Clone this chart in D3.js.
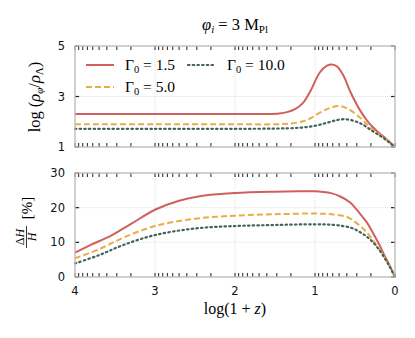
<!DOCTYPE html>
<html>
<head>
<meta charset="utf-8">
<script src="https://cdn.jsdelivr.net/npm/d3@7"></script>
<style>
  body { margin: 0; background: #fff; }
  svg { display: block; }
</style>
</head>
<body>
<svg id="chart" width="415" height="338"></svg>
<script>
// log(1+z) sample points and values
var rhoRed = [[4,2.31],[3,2.31],[2,2.31],[1.6,2.31],[1.45,2.33],[1.35,2.38],[1.25,2.5],[1.15,2.75],[1.06,3.2],[0.94,3.95],[0.85,4.22],[0.79,4.27],[0.72,4.18],[0.64,3.8],[0.56,3.2],[0.44,2.47],[0.35,2.05],[0.275,1.78],[0.2,1.55],[0.125,1.37],[0.06,1.18],[0,1.0]];
var rhoOrange = [[4,1.9],[3,1.9],[2,1.9],[1.5,1.9],[1.3,1.93],[1.15,2.02],[1.06,2.13],[0.94,2.36],[0.82,2.54],[0.69,2.62],[0.58,2.5],[0.44,2.17],[0.35,1.9],[0.275,1.68],[0.2,1.5],[0.125,1.33],[0.06,1.17],[0,1.0]];
var rhoGreen = [[4,1.72],[3,1.72],[2,1.72],[1.5,1.73],[1.2,1.76],[1.0,1.84],[0.85,1.96],[0.72,2.07],[0.62,2.1],[0.5,2.02],[0.4,1.88],[0.3,1.67],[0.2,1.47],[0.12,1.3],[0.05,1.12],[0,1.0]];

var dhRed = [[4,7.0],[3.81,9.2],[3.56,11.8],[3.3,15.3],[3,19.4],[2.7,22.0],[2.44,23.3],[2,24.2],[1.5,24.6],[1.2,24.7],[1,24.7],[0.9,24.55],[0.8,24.2],[0.69,23.3],[0.56,21.5],[0.44,18.3],[0.35,15.7],[0.275,12.7],[0.2,9.5],[0.125,5.9],[0.06,3.0],[0,0]];
var dhOrange = [[4,5.4],[3.7,8.0],[3.4,11.3],[3,14.7],[2.5,16.8],[2,17.7],[1.5,18.1],[1,18.3],[0.8,18.1],[0.6,17.3],[0.44,14.8],[0.35,12.8],[0.275,10.6],[0.2,8.2],[0.125,5.5],[0.06,2.8],[0,0]];
var dhGreen = [[4,3.9],[3.7,6.3],[3.4,9.2],[3,12.1],[2.5,14.0],[2,14.7],[1.5,15.0],[1,15.2],[0.75,15.0],[0.55,14.2],[0.44,13.0],[0.35,11.6],[0.275,10.0],[0.2,7.9],[0.125,5.3],[0.06,2.7],[0,0]];

var gammaLabels = ["1.5", "5.0", "10.0"];
var xTicks = [4, 3, 2, 1, 0];
var yTopTicks = [1, 3, 5];
var yBotTicks = [0, 10, 20, 30];

var colors = ["#d0605e", "#e8ad48", "#40645a"];
var dashes = [null, "6,3", "1.5,3.2"];

var svg = d3.select("#chart");

var x = d3.scaleLinear().domain([4, 0]).range([75, 395]);
var yTop = d3.scaleLinear().domain([1, 5]).range([147, 46]);
var yBot = d3.scaleLinear().domain([0, 30]).range([277, 173]);

// minor ticks, log10 spacing in each decade
var minor = [];
[0, 1, 2, 3].forEach(function(n) {
  for (var k = 2; k < 10; k++) minor.push(n + Math.log10(k));
});

function panel(y, yTicks, grid, series) {
  var g = svg.append("g");
  var y0 = y.range()[0], y1 = y.range()[1];

  // grid
  g.selectAll(".gx").data([3, 2, 1]).enter().append("line")
    .attr("x1", d => x(d)).attr("x2", d => x(d))
    .attr("y1", y0).attr("y2", y1)
    .attr("stroke", "#d8d8d8").attr("stroke-width", 0.8).attr("stroke-dasharray", "1,1");
  g.selectAll(".gy").data(grid).enter().append("line")
    .attr("x1", 75).attr("x2", 395)
    .attr("y1", d => y(d)).attr("y2", d => y(d))
    .attr("stroke", "#d8d8d8").attr("stroke-width", 0.8).attr("stroke-dasharray", "1,1");

  // curves
  var line = d3.line().x(d => x(d[0])).y(d => y(d[1])).curve(d3.curveCatmullRom.alpha(0.5));
  series.forEach(function(s, i) {
    g.append("path").datum(s)
      .attr("d", line)
      .attr("fill", "none")
      .attr("stroke", colors[i])
      .attr("stroke-width", i == 2 ? 2.2 : 2)
      .attr("stroke-linecap", i == 2 ? "round" : "butt")
      .attr("stroke-dasharray", dashes[i]);
  });

  // inward ticks top/bottom
  var allX = xTicks.concat(minor);
  [y0, y1].forEach(function(yy) {
    var dir = yy == y0 ? -1 : 1;
    g.selectAll(null).data(allX).enter().append("line")
      .attr("x1", d => x(d)).attr("x2", d => x(d))
      .attr("y1", yy).attr("y2", yy + dir * 4)
      .attr("stroke", "#222").attr("stroke-width", 1);
  });
  // inward y ticks left/right
  [75, 395].forEach(function(xx) {
    var dir = xx == 75 ? 1 : -1;
    g.selectAll(null).data(yTicks).enter().append("line")
      .attr("x1", xx).attr("x2", xx + dir * 4)
      .attr("y1", d => y(d)).attr("y2", d => y(d))
      .attr("stroke", "#222").attr("stroke-width", 1.2);
  });

  // frame
  g.append("rect")
    .attr("x", 75).attr("y", y1)
    .attr("width", 320).attr("height", y0 - y1)
    .attr("fill", "none").attr("stroke", "#bdbdbd").attr("stroke-width", 1.4);

  // y tick labels
  g.selectAll(null).data(yTicks).enter().append("text")
    .attr("x", 65).attr("y", d => y(d) + 4)
    .attr("text-anchor", "end")
    .attr("font-family", "DejaVu Sans").attr("font-size", 11.5)
    .attr("fill", "#111")
    .text(d => d);
}

panel(yTop, yTopTicks, [3], [rhoRed, rhoOrange, rhoGreen]);
panel(yBot, yBotTicks, [10, 20], [dhRed, dhOrange, dhGreen]);

// x tick labels
svg.selectAll(null).data(xTicks).enter().append("text")
  .attr("x", d => x(d)).attr("y", 295)
  .attr("text-anchor", "middle")
  .attr("font-family", "DejaVu Sans").attr("font-size", 11.5)
  .attr("fill", "#111")
  .text(d => d);

var serif = "Liberation Serif";

// x label
var xl = svg.append("text")
  .attr("x", 235).attr("y", 314)
  .attr("text-anchor", "middle")
  .attr("font-family", serif).attr("font-size", 16);
xl.append("tspan").text("log(1 + ");
xl.append("tspan").attr("font-style", "italic").text("z");
xl.append("tspan").text(")");

// title
var t = svg.append("text")
  .attr("x", 235).attr("y", 30)
  .attr("text-anchor", "middle")
  .attr("font-family", serif).attr("font-size", 16.5);
t.append("tspan").attr("font-style", "italic").text("φ");
t.append("tspan").attr("font-style", "italic").attr("font-size", 11).attr("dy", 3).text("i");
t.append("tspan").attr("dy", -3).text(" = 3 M");
t.append("tspan").attr("font-size", 11).attr("dy", 3).text("Pl");

// top y label
var yl = svg.append("text")
  .attr("transform", "translate(40,97) rotate(-90)")
  .attr("text-anchor", "middle")
  .attr("font-family", serif).attr("font-size", 16.5);
yl.append("tspan").text("log (");
yl.append("tspan").attr("font-style", "italic").text("ρ");
yl.append("tspan").attr("font-style", "italic").attr("font-size", 11).attr("dy", 3).text("φ");
yl.append("tspan").attr("dy", -3).text("/");
yl.append("tspan").attr("font-style", "italic").text("ρ");
yl.append("tspan").attr("font-size", 11).attr("dy", 3).text("Λ");
yl.append("tspan").attr("dy", -3).text(")");

// bottom y label: fraction + [%]
var fl = svg.append("g").attr("transform", "translate(0,224) rotate(-90)");
fl.append("text").attr("x", -13).attr("y", 24)
  .attr("text-anchor", "middle").attr("font-family", serif).attr("font-size", 12)
  .html('Δ<tspan font-style="italic">H</tspan>');
fl.append("line").attr("x1", -24).attr("x2", -2).attr("y1", 26.5).attr("y2", 26.5)
  .attr("stroke", "#000").attr("stroke-width", 0.8);
fl.append("text").attr("x", -13).attr("y", 36)
  .attr("text-anchor", "middle").attr("font-family", serif).attr("font-size", 12)
  .attr("font-style", "italic").text("H");
fl.append("text").attr("x", 16).attr("y", 32)
  .attr("text-anchor", "middle").attr("font-family", serif).attr("font-size", 15)
  .text("[%]");

// legend
var legendPos = [[86, 65], [86, 87], [188, 65]];
[0, 1, 2].forEach(function(i) {
  var p = legendPos[i];
  svg.append("line")
    .attr("x1", p[0]).attr("x2", p[0] + 28)
    .attr("y1", p[1]).attr("y2", p[1])
    .attr("stroke", colors[i]).attr("stroke-width", i == 2 ? 2.2 : 2)
    .attr("stroke-linecap", i == 2 ? "round" : "butt")
    .attr("stroke-dasharray", dashes[i]);
  var lt = svg.append("text")
    .attr("x", p[0] + 39).attr("y", p[1] + 5)
    .attr("font-family", serif).attr("font-size", 15.5);
  lt.append("tspan").text("Γ");
  lt.append("tspan").attr("font-size", 10.5).attr("dy", 3).text("0");
  lt.append("tspan").attr("dy", -3).text(" = " + gammaLabels[i]);
});
</script>
</body>
</html>
